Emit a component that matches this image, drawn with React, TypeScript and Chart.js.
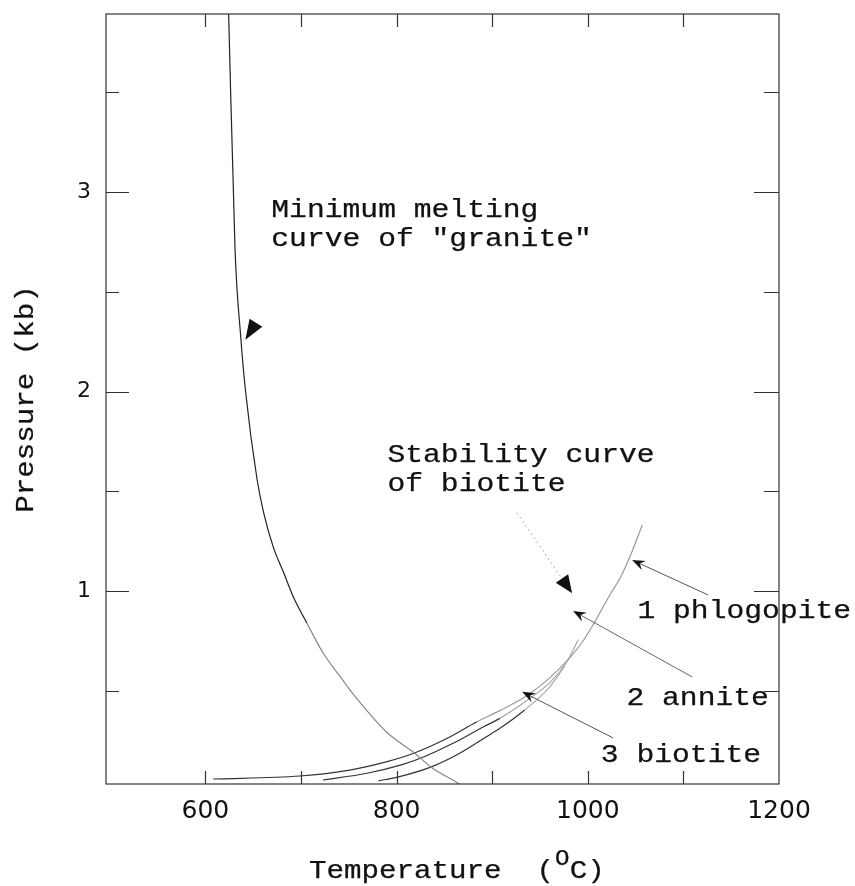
import { useEffect, useRef } from "react";
import { Chart, registerables } from "chart.js";

Chart.register(...registerables);

// ---- data (temperature °C, pressure kb) ----
const graniteT = [624, 631, 637, 642, 654, 661, 671, 682, 692, 706, 723, 741, 755, 790, 818, 838, 863, 866];
const graniteP = [3.95, 2.71, 2.27, 2.0, 1.56, 1.39, 1.22, 1.09, 0.97, 0.84, 0.69, 0.57, 0.48, 0.29, 0.19, 0.11, 0.04, 0.03];

const phlogopiteT = [608, 699, 751, 790, 818, 853, 884, 908, 934, 959, 982, 995, 1006, 1023, 1034, 1044, 1057];
const phlogopiteP = [0.057, 0.072, 0.102, 0.144, 0.186, 0.261, 0.344, 0.4, 0.468, 0.559, 0.669, 0.749, 0.834, 0.98, 1.066, 1.171, 1.331];

const anniteT = [723, 769, 804, 825, 859, 891, 908, 934, 961, 978, 990];
const anniteP = [0.052, 0.086, 0.127, 0.161, 0.236, 0.319, 0.361, 0.443, 0.544, 0.644, 0.755];

const biotiteT = [781, 800, 837, 866, 894, 908, 934, 959, 976];
const biotiteP = [0.048, 0.065, 0.119, 0.186, 0.269, 0.311, 0.403, 0.513, 0.624];

const xTickValues = [600, 700, 800, 900, 1000, 1100];
const xTickLabels = [600, 800, 1000, 1200];
const yTickValues = [0.5, 1, 1.5, 2, 2.5, 3, 3.5];
const yTickLabels = [1, 2, 3];

const X_MIN = 496;
const X_MAX = 1200;
const Y_MIN = 0.032;
const Y_MAX = 3.893;

// annotation text (data coordinates of first baseline start)
const notes = [
  { lines: ["Minimum melting", 'curve of "granite"'], x: 671, y: 2.875 },
  { lines: ["Stability curve", "of biotite"], x: 792.5, y: 1.649 },
  { lines: ["1 phlogopite"], x: 1054, y: 0.863 },
  { lines: ["2 annite"], x: 1042.5, y: 0.428 },
  { lines: ["3 biotite"], x: 1015.7, y: 0.144 },
];

const arrows = [
  { from: [688.6, 2.62], to: [641.8, 2.26], head: 20, width: 15, notch: 0, shaft: null as string | null, dash: [] as number[] },
  { from: [925.9, 1.392], to: [983.6, 0.988], head: 18, width: 15, notch: 0, shaft: "#aaa", dash: [2, 3] },
  { from: [1125.8, 0.98], to: [1046.3, 1.155], head: 13, width: 10, notch: 0.35, shaft: "#555", dash: [] },
  { from: [1109.1, 0.569], to: [984.6, 0.9], head: 13, width: 10, notch: 0.35, shaft: "#666", dash: [] },
  { from: [1026.5, 0.263], to: [931.3, 0.494], head: 13, width: 10, notch: 0.35, shaft: "#555", dash: [] },
];

const MONO = "'Courier New', 'Liberation Mono', monospace";

function stretchedText(ctx: CanvasRenderingContext2D, text: string, x: number, y: number, size: number, sx: number) {
  ctx.save();
  ctx.translate(x, y);
  ctx.scale(sx, 1);
  ctx.font = `${size}px ${MONO}`;
  ctx.textAlign = "left";
  ctx.textBaseline = "alphabetic";
  ctx.fillText(text, 0, 0);
  ctx.lineWidth = 0.25;
  ctx.strokeStyle = ctx.fillStyle as string;
  ctx.strokeText(text, 0, 0);
  const w = ctx.measureText(text).width * sx;
  ctx.restore();
  return w;
}

const decorPlugin = {
  id: "decor",
  afterDraw(chart: any) {
    const { ctx, chartArea: a, scales } = chart;
    const xs = scales.x;
    const ys = scales.y;
    ctx.save();
    // frame
    ctx.strokeStyle = "#333";
    ctx.lineWidth = 1.2;
    ctx.strokeRect(a.left, a.top, a.right - a.left, a.bottom - a.top);
    // inward tick marks
    ctx.beginPath();
    xTickValues.forEach((v) => {
      const px = Math.round(xs.getPixelForValue(v)) + 0.5;
      ctx.moveTo(px, a.bottom);
      ctx.lineTo(px, a.bottom - 13);
      ctx.moveTo(px, a.top);
      ctx.lineTo(px, a.top + 13);
    });
    yTickValues.forEach((v) => {
      const py = Math.round(ys.getPixelForValue(v)) + 0.5;
      const major = yTickLabels.includes(v);
      ctx.moveTo(a.left, py);
      ctx.lineTo(a.left + (major ? 23 : 13), py);
      ctx.moveTo(a.right, py);
      ctx.lineTo(a.right - (major ? 25 : 15), py);
    });
    ctx.stroke();

    // arrows
    arrows.forEach((ar) => {
      const fx = xs.getPixelForValue(ar.from[0]);
      const fy = ys.getPixelForValue(ar.from[1]);
      const tx = xs.getPixelForValue(ar.to[0]);
      const ty = ys.getPixelForValue(ar.to[1]);
      const len = Math.hypot(tx - fx, ty - fy);
      const ux = (tx - fx) / len;
      const uy = (ty - fy) / len;
      const nx = -uy;
      const ny = ux;
      const bx = tx - ux * ar.head;
      const by = ty - uy * ar.head;
      const kx = bx + ux * ar.head * ar.notch;
      const ky = by + uy * ar.head * ar.notch;
      if (ar.shaft) {
        ctx.save();
        ctx.strokeStyle = ar.shaft;
        ctx.lineWidth = 1;
        ctx.setLineDash(ar.dash);
        ctx.beginPath();
        ctx.moveTo(fx, fy);
        ctx.lineTo(kx, ky);
        ctx.stroke();
        ctx.restore();
      }
      ctx.fillStyle = "#111";
      ctx.beginPath();
      ctx.moveTo(tx, ty);
      ctx.lineTo(bx + (nx * ar.width) / 2, by + (ny * ar.width) / 2);
      ctx.lineTo(kx, ky);
      ctx.lineTo(bx - (nx * ar.width) / 2, by - (ny * ar.width) / 2);
      ctx.closePath();
      ctx.fill();
    });

    // annotation text
    ctx.fillStyle = "#111";
    notes.forEach((n) => {
      const px = xs.getPixelForValue(n.x) - 2;
      const py = ys.getPixelForValue(n.y);
      n.lines.forEach((line, i) => {
        stretchedText(ctx, line, px, py + i * 29, 25, 1.187);
      });
    });

    // x axis title with superscript
    const tx0 = a.left + 203;
    const tby = a.bottom + 94;
    const w1 = stretchedText(ctx, "Temperature  (", tx0, tby, 25, 1.167);
    const w2 = stretchedText(ctx, "O", tx0 + w1 + 1, tby - 13, 22, 1.1);
    stretchedText(ctx, "C)", tx0 + w1 + w2 + 1, tby, 25, 1.167);

    // y axis title (rotated)
    ctx.save();
    const cy = (a.top + a.bottom) / 2;
    ctx.translate(a.left - 73, cy);
    ctx.rotate(-Math.PI / 2);
    ctx.font = `25px ${MONO}`;
    const tw = ctx.measureText("Pressure (kb)").width * 1.167;
    stretchedText(ctx, "Pressure (kb)", -tw / 2, 0, 25, 1.167);
    ctx.restore();

    ctx.restore();
  },
};

function pts(T: number[], P: number[]) {
  return T.map((t, i) => ({ x: t, y: P[i] }));
}

export default function App() {
  const ref = useRef<HTMLCanvasElement | null>(null);
  useEffect(() => {
    if (!ref.current) return;
    const lineBase = {
      showLine: true,
      pointRadius: 0,
      borderWidth: 1.2,
      cubicInterpolationMode: "monotone" as const,
      fill: false,
    };
    const chart = new Chart(ref.current, {
      type: "scatter",
      data: {
        datasets: [
          {
            ...lineBase,
            label: "granite",
            data: pts(graniteT, graniteP),
            borderColor: "#222",
            segment: { borderColor: (c: any) => (c.p0.parsed.y < 0.9 ? "#888" : "#222") },
          },
          {
            ...lineBase,
            label: "phlogopite",
            data: pts(phlogopiteT, phlogopiteP),
            borderColor: "#333",
            segment: { borderColor: (c: any) => (c.p0.parsed.y > 0.34 ? "#999" : "#333") },
          },
          {
            ...lineBase,
            label: "annite",
            data: pts(anniteT, anniteP),
            borderColor: "#333",
            segment: { borderColor: (c: any) => (c.p0.parsed.y > 0.34 ? "#aaa" : "#333") },
          },
          {
            ...lineBase,
            label: "biotite",
            data: pts(biotiteT, biotiteP),
            borderColor: "#333",
            segment: { borderColor: (c: any) => (c.p0.parsed.y > 0.34 ? "#aaa" : "#333") },
          },
        ],
      },
      options: {
        animation: false,
        responsive: false,
        devicePixelRatio: 1,
        layout: { padding: { top: 14, right: 76, left: 0, bottom: 0 } },
        plugins: { legend: { display: false }, tooltip: { enabled: false } },
        scales: {
          x: {
            type: "linear",
            min: X_MIN,
            max: X_MAX,
            grid: { display: false, drawTicks: false },
            border: { display: false },
            afterBuildTicks: (s: any) => {
              s.ticks = [...xTickValues, 1200].map((v) => ({ value: v }));
            },
            afterFit: (s: any) => {
              s.height = 102;
              s.paddingLeft = 0;
              s.paddingRight = 0;
            },
            ticks: {
              autoSkip: false,
              maxRotation: 0,
              padding: 12,
              color: "#111",
              font: { family: "'DejaVu Sans', sans-serif", size: 25 },
              callback: (v: any) => (xTickLabels.includes(Number(v)) ? String(v) : ""),
            },
          },
          y: {
            type: "linear",
            min: Y_MIN,
            max: Y_MAX,
            grid: { display: false, drawTicks: false },
            border: { display: false },
            afterBuildTicks: (s: any) => {
              s.ticks = yTickValues.map((v) => ({ value: v }));
            },
            afterFit: (s: any) => {
              s.width = 106;
              s.paddingTop = 0;
              s.paddingBottom = 0;
            },
            ticks: {
              autoSkip: false,
              padding: 15,
              color: "#111",
              font: { family: "'DejaVu Sans', sans-serif", size: 22 },
              callback: (v: any) => (yTickLabels.includes(Number(v)) ? String(v) : ""),
            },
          },
        },
      },
      plugins: [decorPlugin],
    });
    return () => chart.destroy();
  }, []);
  return (
    <div style={{ position: "fixed", left: 0, top: 0, width: 855, height: 886, background: "#fff" }}>
      <canvas ref={ref} width={855} height={886} style={{ display: "block", width: 855, height: 886 }} />
    </div>
  );
}
